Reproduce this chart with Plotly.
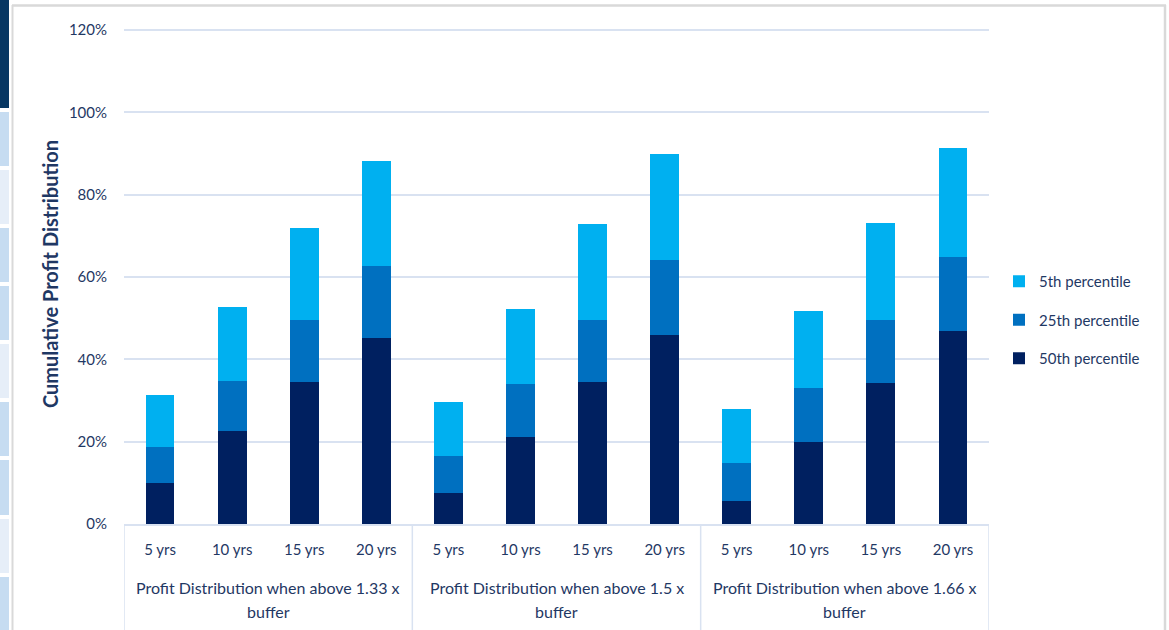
import plotly.graph_objects as go

# Chart data: stacked segment heights (percentage points) per horizon
groups = [
    "Profit Distribution when above 1.33 x",
    "Profit Distribution when above 1.5 x",
    "Profit Distribution when above 1.66 x",
]
group_suffix = "buffer"
horizons = ["5 yrs", "10 yrs", "15 yrs", "20 yrs"]

p50 = [10.0, 22.6, 34.6, 45.2, 7.5, 21.1, 34.5, 45.9, 5.6, 19.9, 34.2, 46.9]
p25 = [8.7, 12.2, 15.0, 17.5, 9.0, 12.9, 15.1, 18.2, 9.2, 13.1, 15.4, 18.0]
p5 = [12.6, 18.0, 22.3, 25.5, 13.1, 18.2, 23.3, 25.8, 13.1, 18.7, 23.5, 26.4]

y_ticks = [0, 20, 40, 60, 80, 100, 120]

NAVY = "#1f3864"
GRID = "#d9e2f1"
FONT = "Lato"

W, H = 1169, 630
L, R, T, B = 124, 180, 24, 106
PW, PH = W - L - R, H - T - B
Y_MAX = 121.46  # small headroom so the 120% gridline stays visible


def px_x(px):
    return (px - L) / PW


def px_y(py):
    return (H - B - py) / PH


n = len(groups) * len(horizons)
xs = list(range(n))
ticktext = horizons * len(groups)

fig = go.Figure()
series = [
    ("50th percentile", p50, "#002060", 3),
    ("25th percentile", p25, "#0070c0", 2),
    ("5th percentile", p5, "#00b0f0", 1),
]
for name, vals, color, rank in series:
    fig.add_trace(go.Bar(
        x=xs, y=vals, name=name, width=0.4,
        marker=dict(color=color, line=dict(width=0)),
        legendgroup=name, legendrank=rank,
    ))

shapes = []
# group dividers below the axis
for k in range(len(groups) + 1):
    xd = k * len(horizons) - 0.5
    shapes.append(dict(type="line", xref="x", yref="paper", x0=xd, x1=xd,
                       y0=0, y1=px_y(630), line=dict(color=GRID, width=1.5)))

# outer frame
frame = "#d9d9d9"
shapes.append(dict(type="line", xref="paper", yref="paper",
                   x0=px_x(12), x1=px_x(1166), y0=px_y(5.5), y1=px_y(5.5),
                   line=dict(color=frame, width=2.5)))
shapes.append(dict(type="line", xref="paper", yref="paper",
                   x0=px_x(12.5), x1=px_x(12.5), y0=px_y(5), y1=px_y(630),
                   line=dict(color=frame, width=2)))
shapes.append(dict(type="line", xref="paper", yref="paper",
                   x0=px_x(1165), x1=px_x(1165), y0=px_y(5), y1=px_y(630),
                   line=dict(color=frame, width=2.5)))

# side strip of panels on the left edge
shapes.append(dict(type="rect", xref="paper", yref="paper",
                   x0=px_x(0), x1=px_x(9), y0=px_y(0), y1=px_y(108),
                   fillcolor="#073763", line=dict(width=0)))
strip = [(112, 166, "#c6dcf1"), (170, 224, "#e6eef8"), (228, 282, "#c6dcf1"),
         (286, 340, "#c6dcf1"), (344, 398, "#e6eef8"), (402, 456, "#c6dcf1"),
         (460, 515, "#c6dcf1"), (519, 573, "#e6eef8"), (577, 630, "#c6dcf1")]
for y0, y1, c in strip:
    shapes.append(dict(type="rect", xref="paper", yref="paper",
                       x0=px_x(0), x1=px_x(9), y0=px_y(y0), y1=px_y(y1),
                       fillcolor=c, line=dict(width=0)))

annotations = []
for g, label in enumerate(groups):
    xc = g * len(horizons) + (len(horizons) - 1) / 2
    annotations.append(dict(x=xc, y=px_y(587), xref="x", yref="paper",
                            yanchor="middle", text=label, showarrow=False,
                            font=dict(family=FONT, size=16, color=NAVY)))
    annotations.append(dict(x=xc, y=px_y(611), xref="x", yref="paper",
                            yanchor="middle", text=group_suffix, showarrow=False,
                            font=dict(family=FONT, size=16, color=NAVY)))

fig.update_layout(
    width=W, height=H,
    margin=dict(l=L, r=R, t=T, b=B),
    barmode="stack",
    plot_bgcolor="white", paper_bgcolor="white",
    font=dict(family=FONT, size=15, color=NAVY),
    showlegend=True,
    legend=dict(x=px_x(999), y=px_y(320), xanchor="left", yanchor="middle",
                traceorder="grouped", tracegroupgap=16,
                font=dict(family=FONT, size=15, color=NAVY)),
    xaxis=dict(range=[-0.5, n - 0.5], tickmode="array", tickvals=xs,
               ticktext=ticktext, showgrid=False, zeroline=False,
               showline=True, linecolor=GRID, linewidth=2, ticks="",
               ticklabelstandoff=11, fixedrange=True,
               tickfont=dict(family=FONT, size=15, color=NAVY)),
    yaxis=dict(range=[0, Y_MAX], tickmode="array", tickvals=y_ticks,
               ticktext=[f"{v}%" for v in y_ticks],
               showgrid=True, gridcolor=GRID, gridwidth=2,
               zeroline=False, showline=False, ticks="",
               ticklabelstandoff=16,
               tickfont=dict(family=FONT, size=15, color=NAVY),
               title=dict(text="<b>Cumulative Profit Distribution</b>",
                          font=dict(family=FONT, size=20, color=NAVY),
                          standoff=4)),
    shapes=shapes,
    annotations=annotations,
)

fig.write_html("out.html")
